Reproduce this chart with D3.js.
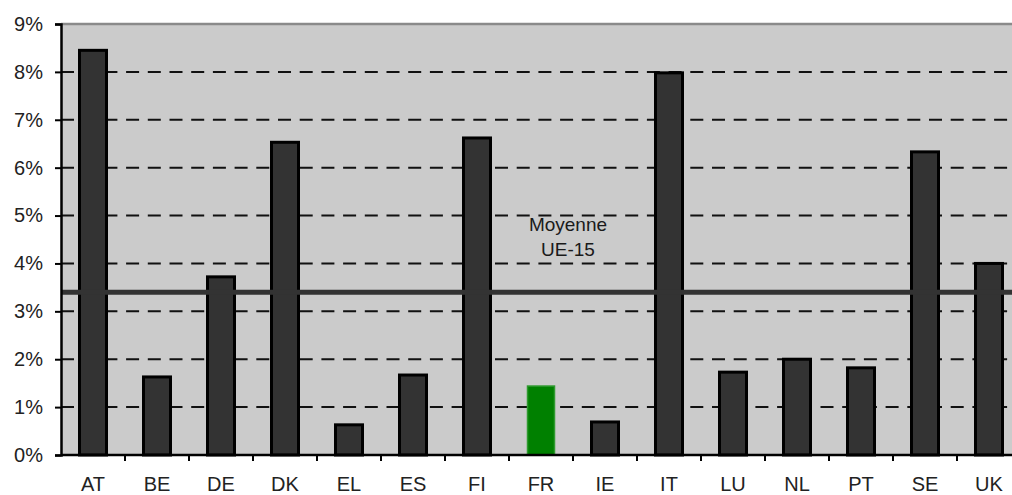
<!DOCTYPE html>
<html>
<head>
<meta charset="utf-8">
<script src="https://cdn.jsdelivr.net/npm/d3@7/dist/d3.min.js"></script>
<style>
  body { margin: 0; background: #fff; }
  svg { display: block; font-family: "Liberation Sans", Arial, sans-serif; }
</style>
</head>
<body>
<svg id="chart" width="1012" height="495"></svg>
<script>
// Country codes (EU-15) and their shares, in percent
const countries = ["AT", "BE", "DE", "DK", "EL", "ES", "FI", "FR", "IE", "IT", "LU", "NL", "PT", "SE", "UK"];
const values = [8.45, 1.63, 3.72, 6.53, 0.63, 1.67, 6.62, 1.44, 0.69, 7.98, 1.73, 2.0, 1.82, 6.33, 4.0];
const highlight = ["FR"];
const averageValue = 3.4;
const averageLabel = ["Moyenne", "UE-15"];
const yTicks = [0, 1, 2, 3, 4, 5, 6, 7, 8, 9];

const svg = d3.select("#chart");
const plotLeft = 61, plotTop = 24, plotBottom = 455, band = 64;
const plotRight = plotLeft + band * countries.length;

const x = d3.scaleBand().domain(countries).range([plotLeft, plotRight]).paddingInner(0).paddingOuter(0);
const y = d3.scaleLinear().domain([0, 9]).range([plotBottom, plotTop]);

// plot background
svg.append("rect")
  .attr("x", plotLeft).attr("y", plotTop)
  .attr("width", plotRight - plotLeft).attr("height", plotBottom - plotTop)
  .attr("fill", "#cbcbcb");

// top border
svg.append("line")
  .attr("x1", plotLeft).attr("x2", plotRight)
  .attr("y1", y(9)).attr("y2", y(9))
  .attr("stroke", "#8a8a8a").attr("stroke-width", 2.5);

// dashed gridlines
svg.append("g").selectAll("line")
  .data(yTicks.filter(d => d > 0 && d < 9))
  .join("line")
  .attr("x1", plotLeft).attr("x2", plotRight)
  .attr("y1", d => y(d)).attr("y2", d => y(d))
  .attr("stroke", "#111").attr("stroke-width", 2)
  .attr("stroke-dasharray", "13 8.7");

// bars
svg.append("g").selectAll("rect")
  .data(countries.map((c, i) => ({ c, v: values[i] })))
  .join("rect")
  .attr("x", d => x(d.c) + band / 2 - 13.5)
  .attr("width", 27)
  .attr("y", d => y(d.v))
  .attr("height", d => y(0) - y(d.v))
  .attr("fill", d => highlight.includes(d.c) ? "#008000" : "#333333")
  .attr("stroke", d => highlight.includes(d.c) ? "#2f9a2f" : "#000")
  .attr("stroke-width", d => highlight.includes(d.c) ? 1.5 : 3);

// EU-15 average line
svg.append("line")
  .attr("x1", plotLeft).attr("x2", plotRight)
  .attr("y1", y(averageValue)).attr("y2", y(averageValue))
  .attr("stroke", "#333").attr("stroke-width", 5);

svg.append("g").selectAll("text")
  .data(averageLabel)
  .join("text")
  .attr("x", 568)
  .attr("y", (d, i) => 231 + i * 25)
  .attr("text-anchor", "middle")
  .attr("font-size", 19)
  .attr("fill", "#1a1a1a")
  .text(d => d);

// y axis
const yAxis = svg.append("g")
  .attr("transform", `translate(${plotLeft},0)`)
  .call(d3.axisLeft(y).tickValues(yTicks).tickFormat(d => d + "%").tickSize(6).tickPadding(12));
yAxis.select(".domain").attr("stroke", "#000").attr("stroke-width", 2.5);
yAxis.selectAll(".tick line").attr("stroke", "#000").attr("stroke-width", 2);
yAxis.selectAll(".tick text")
  .attr("font-size", 20).attr("fill", "#222")
  .attr("font-family", "'Liberation Sans', Arial, sans-serif");

// x axis with ticks on band boundaries
svg.append("line")
  .attr("x1", plotLeft).attr("x2", plotRight)
  .attr("y1", plotBottom).attr("y2", plotBottom)
  .attr("stroke", "#000").attr("stroke-width", 2.5);
svg.append("g").selectAll("line")
  .data(countries.slice(1))
  .join("line")
  .attr("x1", d => x(d)).attr("x2", d => x(d))
  .attr("y1", plotBottom).attr("y2", plotBottom + 6)
  .attr("stroke", "#000").attr("stroke-width", 2);
svg.append("g").selectAll("text")
  .data(countries)
  .join("text")
  .attr("x", d => x(d) + band / 2)
  .attr("y", 491)
  .attr("text-anchor", "middle")
  .attr("font-size", 20)
  .attr("fill", "#222")
  .text(d => d);
</script>
</body>
</html>
